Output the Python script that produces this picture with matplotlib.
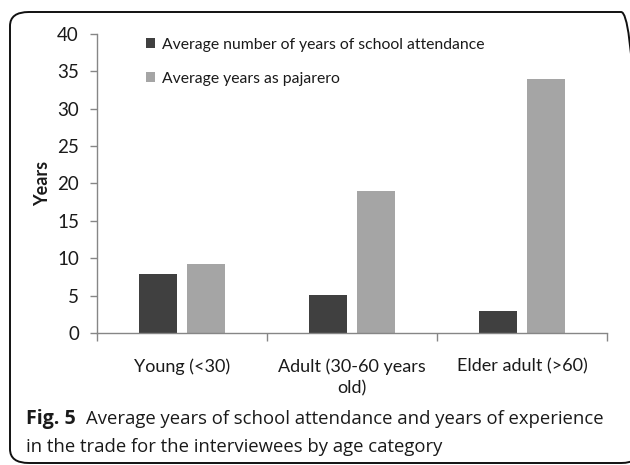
import matplotlib
matplotlib.use("Agg")
import matplotlib.pyplot as plt
import numpy as np
from matplotlib.patches import FancyBboxPatch

# Data
categories = ["Young (<30)", "Adult (30-60 years\nold)", "Elder adult (>60)"]
school_years = [7.9, 5.1, 3.0]
pajarero_years = [9.2, 19.0, 34.0]
series_labels = ["Average number of years of school attendance",
                 "Average years as pajarero"]
y_ticks = [0, 5, 10, 15, 20, 25, 30, 35, 40]

W, H = 630, 465
fig = plt.figure(figsize=(W / 100, H / 100), dpi=100)
renderer = fig.canvas.get_renderer()

chart_font = "Lato"
cap_font = ["Open Sans", "DejaVu Sans"]


def fit_width(text, target_px):
    """Scale a text's font size so its rendered width equals target_px."""
    w = text.get_window_extent(renderer).width
    text.set_fontsize(text.get_fontsize() * target_px / w)


# Rounded frame around chart and caption
frame = FancyBboxPatch((10 / W, (H - 463) / H), (640 - 10) / W, (463 - 12) / H,
                       boxstyle="round,pad=0,rounding_size=0.03",
                       transform=fig.transFigure, fill=False,
                       edgecolor="#111111", linewidth=1.4, clip_on=False)
fig.patches.append(frame)

ax = fig.add_axes([97 / W, (H - 333) / H, 510 / W, 299 / H])
x = np.arange(len(categories))
bw = 0.222
off = 0.142
ax.bar(x - off, school_years, bw, color="#404040", label=series_labels[0])
ax.bar(x + off, pajarero_years, bw, color="#a5a5a5", label=series_labels[1])

ax.set_xlim(-0.5, len(categories) - 0.5)
ax.set_ylim(0, 40)
ax.set_yticks(y_ticks)
ax.set_yticklabels([str(v) for v in y_ticks], fontfamily=chart_font,
                   fontsize=13.5, color="#1a1a1a")
ax.set_xticks(x)
ax.set_xticklabels(categories, fontfamily=chart_font, fontsize=13,
                   color="#1a1a1a", linespacing=1.45)
ax.set_xticks(np.arange(-0.5, len(categories)), minor=True)
ax.tick_params(axis="x", which="major", length=0, pad=18)
ax.tick_params(axis="x", which="minor", length=6, direction="out",
               color="#868686", width=1)
ax.tick_params(axis="y", length=5, direction="out", color="#868686",
               width=1, pad=8)

for side in ("top", "right"):
    ax.spines[side].set_visible(False)
for side in ("left", "bottom"):
    ax.spines[side].set_color("#868686")
    ax.spines[side].set_linewidth(1)

ax.set_ylabel("Years", fontfamily=chart_font, fontsize=13,
              fontweight="bold", color="#1a1a1a", labelpad=4)

leg = ax.legend(loc="upper left", bbox_to_anchor=(146 / W, 1 - 38 / H),
                bbox_transform=fig.transFigure, frameon=False,
                prop={"family": chart_font, "size": 11.3},
                handlelength=0.6, handleheight=0.6, handletextpad=0.4,
                labelspacing=1.25, borderaxespad=0, borderpad=0)
for t in leg.get_texts():
    t.set_color("#1a1a1a")

# Caption
fig_lbl = fig.text(26 / W, 1 - 419 / H, "Fig. 5", fontfamily=cap_font,
                   fontweight="bold", fontsize=12, va="center",
                   color="#1a1a1a")
fit_width(fig_lbl, 50)
line1 = fig.text(86 / W, 1 - 419 / H,
                 "Average years of school attendance and years of experience",
                 fontfamily=cap_font, fontsize=12, va="center",
                 color="#1a1a1a")
fit_width(line1, 514)
fig.text(26 / W, 1 - 447 / H,
         "in the trade for the interviewees by age category",
         fontfamily=cap_font, fontsize=line1.get_fontsize(), va="center",
         color="#1a1a1a")

fig.savefig("out.png", dpi=100)
